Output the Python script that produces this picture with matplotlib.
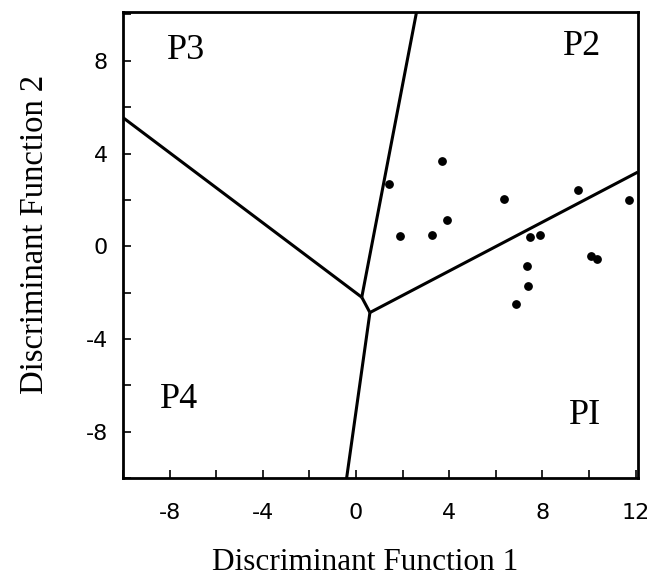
import numpy as np
import matplotlib
matplotlib.use("Agg")
import matplotlib.pyplot as plt
from matplotlib.ticker import MultipleLocator

plt.rcParams["axes.unicode_minus"] = False

# Discriminant scores of the samples
df1 = [3.7, 1.43, 6.36, 9.55, 11.74, 3.9, 1.88, 3.26, 7.45, 7.9, 10.1, 10.35, 7.36, 7.39, 6.88]
df2 = [3.69, 2.70, 2.03, 2.44, 2.0, 1.13, 0.46, 0.49, 0.42, 0.49, -0.44, -0.57, -0.85, -1.72, -2.47]

# Territorial map boundaries (vertices and edge end points)
vertex_upper = (0.25, -2.2)
vertex_lower = (0.6, -2.86)
edge_top = (2.6, 10.1)
edge_left = (-10.0, 5.55)
edge_right = (12.1, 3.2)
edge_bottom = (-0.4, -10.0)

region_labels = ["P3", "P2", "P4", "PI"]
region_pos = [(-7.3, 8.45), (9.7, 8.6), (-7.6, -6.6), (9.85, -7.3)]

fig = plt.figure(figsize=(6.61, 5.76), dpi=100)
ax = fig.add_axes([0.186, 0.170, 0.779, 0.809])

segments = [
    (vertex_upper, edge_top),
    (vertex_upper, edge_left),
    (vertex_upper, vertex_lower),
    (vertex_lower, edge_right),
    (vertex_lower, edge_bottom),
]
for a, b in segments:
    ax.plot([a[0], b[0]], [a[1], b[1]], color="black", lw=2.2, solid_capstyle="butt")

ax.scatter(df1, df2, s=28, color="black", zorder=3)

for lab, (x, y) in zip(region_labels, region_pos):
    ax.text(x, y, lab, fontsize=26, family="Liberation Serif", ha="center", va="center")

ax.set_xlim(-10.0, 12.1)
ax.set_ylim(-10.0, 10.1)
ax.xaxis.set_minor_locator(MultipleLocator(2))
ax.yaxis.set_minor_locator(MultipleLocator(2))
ax.set_xticks(np.arange(-8, 13, 4))
ax.set_yticks(np.arange(-8, 9, 4))
ax.tick_params(which="both", direction="in", length=6, width=1.2, top=False, right=False)
ax.tick_params(axis="x", which="major", pad=18)
ax.tick_params(axis="y", which="major", pad=11)
for t in ax.get_xticklabels() + ax.get_yticklabels():
    t.set_family("DejaVu Sans")
    t.set_fontsize(16)

for sp in ax.spines.values():
    sp.set_linewidth(2)

# axis titles placed by hand, like the original figure
fig.text(365 / 661, 1 - 562 / 576, "Discriminant Function 1", fontsize=22.5,
         family="Liberation Serif", ha="center", va="center")
fig.text(35 / 661, 1 - 234 / 576, "Discriminant Function 2", fontsize=23.5,
         family="Liberation Serif", ha="center", va="center", rotation=90)

fig.savefig("out.png", dpi=100)
